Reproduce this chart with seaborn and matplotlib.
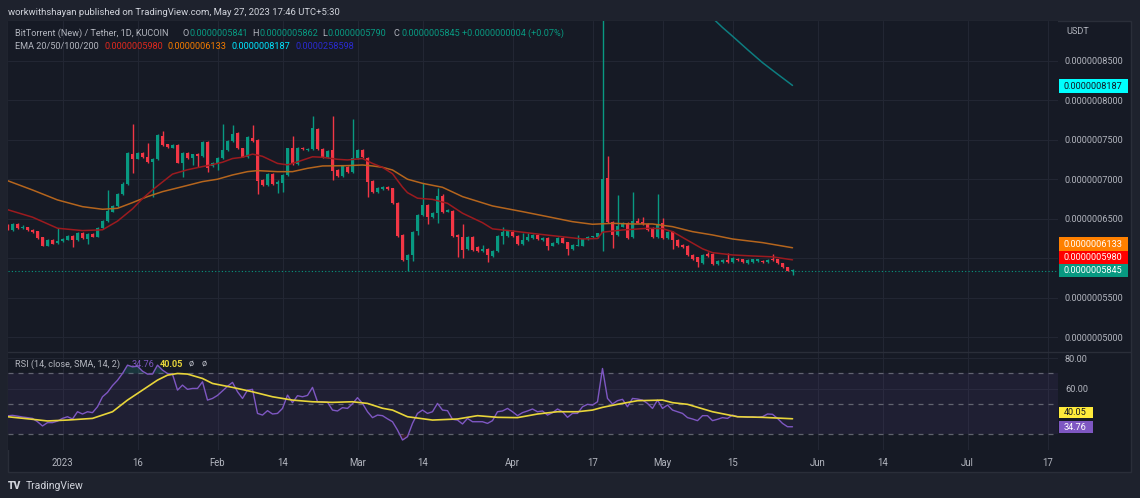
import numpy as np
import pandas as pd
import matplotlib
matplotlib.use("Agg")
import matplotlib.pyplot as plt
from matplotlib.patches import Rectangle
from matplotlib.lines import Line2D
from matplotlib.ticker import FuncFormatter
import seaborn as sns

# ---------------- data ----------------
# BitTorrent (New) / Tether, 1D, KUCOIN  -- prices in units of 1e-10 USDT
first_candle = "2022-12-21"
open_ = [6409, 6358, 6434, 6379, 6392, 6362, 6340, 6265, 6160, 6231,
         6189, 6215, 6231, 6282, 6231, 6324, 6240, 6307, 6274, 6379,
         6476, 6590, 6662, 6814, 6940, 7320, 7261, 7337, 7278, 7214,
         7252, 7552, 7442, 7400, 7434, 7210, 7337, 7273, 7320, 7294,
         7476, 7172, 7202, 7265, 7370, 7488, 7581, 7391, 7286, 7526,
         7497, 6990, 6927, 7067, 6940, 6950, 7054, 7400, 7193, 7400,
         7370, 7383, 7632, 7379, 7278, 7370, 7117, 7041, 7159, 7096,
         7265, 7370, 7273, 6982, 6843, 6873, 6906, 6885, 6704, 6295,
         5978, 6042, 6350, 6548, 6674, 6518, 6569, 6792, 6590, 6603,
         6295, 6274, 6113, 6274, 6139, 6096, 6113, 6029, 6096, 6282,
         6282, 6337, 6282, 6181, 6231, 6253, 6295, 6231, 6253, 6160,
         6189, 6261, 6202, 6113, 6160, 6160, 6240, 6265, 6274, 6316,
         7012, 6463, 6295, 6400, 6451, 6265, 6476, 6463, 6430, 6387,
         6265, 6442, 6253, 6337, 6231, 6168, 6156, 6042, 6012, 5936,
         6054, 6054, 5928, 5957, 5978, 5957, 5995, 5987, 5936, 5957,
         5962, 5970, 5949, 5987, 5987, 5936, 5886, 5841]
high_ = [6430, 6445, 6440, 6420, 6400, 6375, 6350, 6270, 6240, 6245,
         6379, 6255, 6300, 6290, 6335, 6335, 6320, 6315, 6390, 6490,
         6864, 6680, 6830, 6960, 7345, 7699, 7340, 7350, 7463, 7265,
         7570, 7611, 7450, 7445, 7445, 7345, 7350, 7325, 7330, 7490,
         7490, 7215, 7280, 7699, 7500, 7687, 7595, 7400, 7550, 7687,
         7510, 7000, 7080, 7075, 6985, 7065, 7400, 7547, 7410, 7410,
         7395, 7800, 7650, 7390, 7375, 7800, 7130, 7185, 7170, 7758,
         7385, 7385, 7285, 6995, 6900, 6910, 6915, 6895, 6715, 6305,
         6055, 6350, 6560, 6948, 6685, 6590, 6885, 6810, 6625, 6615,
         6305, 6434, 6285, 6285, 6150, 6168, 6125, 6105, 6295, 6400,
         6360, 6358, 6295, 6316, 6316, 6310, 6305, 6265, 6265, 6210,
         6265, 6270, 6210, 6180, 6295, 6250, 6285, 6285, 6325, 9700,
         7294, 6475, 6801, 6455, 6460, 6843, 6506, 6527, 6440, 6395,
         6809, 6506, 6350, 6350, 6240, 6180, 6165, 6055, 6020, 6055,
         6084, 6065, 5980, 5990, 6071, 6010, 6005, 5995, 5990, 5995,
         5995, 5980, 5990, 6054, 5995, 5945, 5895, 5862]
low_ = [6355, 6350, 6370, 6370, 6350, 6325, 6250, 6150, 6150, 6175,
        6180, 6205, 6225, 6147, 6220, 6245, 6181, 6265, 6265, 6370,
        6465, 6580, 6650, 6800, 6930, 7075, 7250, 7265, 7205, 6780,
        7240, 7425, 7400, 7390, 7200, 7033, 7255, 7180, 7160, 7285,
        7096, 7160, 7117, 7255, 7360, 7475, 7380, 7275, 7270, 7475,
        6814, 6915, 6915, 6930, 6830, 6843, 7040, 7180, 7180, 7370,
        7360, 7370, 7370, 7265, 7265, 6990, 7030, 7030, 7085, 7085,
        7255, 7265, 6771, 6830, 6830, 6860, 6860, 6690, 6270, 5965,
        5843, 5970, 6295, 6535, 6434, 6505, 6442, 6575, 6580, 6270,
        6020, 6000, 6100, 6090, 6085, 6085, 5957, 6015, 6085, 6181,
        6270, 6270, 6170, 6170, 6220, 6240, 6230, 6220, 6105, 6150,
        6180, 6190, 6042, 6100, 6150, 6150, 6230, 6255, 6260, 6096,
        6450, 6126, 6285, 6390, 6240, 6255, 6440, 6425, 6345, 6255,
        6255, 6240, 6240, 6113, 6145, 6135, 6030, 5975, 5894, 5925,
        6020, 5910, 5915, 5945, 5945, 5945, 5965, 5940, 5925, 5945,
        5950, 5940, 5940, 5970, 5925, 5875, 5835, 5790]
close_ = [6366, 6434, 6379, 6400, 6358, 6337, 6261, 6160, 6231, 6181,
          6223, 6240, 6282, 6231, 6324, 6253, 6307, 6274, 6379, 6476,
          6598, 6662, 6814, 6940, 7337, 7252, 7328, 7278, 7214, 7252,
          7560, 7434, 7412, 7434, 7210, 7337, 7265, 7315, 7294, 7476,
          7138, 7202, 7265, 7370, 7488, 7569, 7391, 7286, 7539, 7488,
          6982, 6927, 7067, 6940, 6970, 7054, 7391, 7193, 7400, 7379,
          7383, 7644, 7379, 7278, 7362, 7109, 7041, 7172, 7096, 7265,
          7370, 7278, 6970, 6843, 6885, 6898, 6873, 6704, 6282, 5978,
          6042, 6337, 6548, 6674, 6527, 6577, 6792, 6590, 6611, 6282,
          6265, 6105, 6274, 6105, 6096, 6113, 6042, 6092, 6282, 6337,
          6345, 6282, 6181, 6231, 6265, 6295, 6240, 6253, 6160, 6198,
          6253, 6198, 6113, 6168, 6165, 6240, 6274, 6274, 6316, 7000,
          6463, 6295, 6409, 6442, 6253, 6476, 6451, 6434, 6358, 6265,
          6434, 6253, 6337, 6231, 6156, 6147, 6042, 5987, 5949, 6042,
          6029, 5923, 5970, 5978, 5957, 5999, 5978, 5949, 5978, 5987,
          5987, 5949, 5978, 5978, 5936, 5886, 5843, 5845]

# EMA lines (days counted from 2023-01-01)
ema_ref_date = "2023-01-01"
ema20_day = [-11, -6, -1, 4, 8, 11, 14, 16, 18, 21, 22, 25, 28, 30, 32, 34, 36, 38,
             40, 43, 45, 47, 50, 52, 55, 57, 60, 62, 64, 66, 68, 69, 71, 74, 77, 80,
             84, 86, 90, 95, 100, 104, 107, 108, 112, 114, 117, 120, 122, 125, 128,
             130, 134, 138, 142, 146]
ema20_val = [6615, 6520, 6380, 6350, 6360, 6470, 6625, 6755, 6865, 7015, 7065, 7120,
             7160, 7185, 7215, 7262, 7278, 7318, 7290, 7200, 7182, 7220, 7284, 7278,
             7252, 7244, 7262, 7200, 7150, 7070, 6900, 6830, 6760, 6745, 6695, 6570,
             6450, 6372, 6345, 6307, 6272, 6244, 6250, 6330, 6358, 6366, 6379, 6375,
             6337, 6228, 6120, 6071, 6042, 6029, 6018, 5980]
ema50_day = [-11, -6, -1, 4, 8, 11, 14, 17, 20, 24, 28, 31, 34, 37, 39, 43, 46, 49,
             52, 57, 60, 62, 64, 66, 69, 72, 76, 80, 86, 92, 97, 102, 106, 110, 114,
             118, 122, 126, 130, 134, 140, 146]
ema50_val = [6982, 6864, 6738, 6653, 6620, 6632, 6704, 6780, 6843, 6906, 6970, 7000,
             7054, 7096, 7109, 7096, 7096, 7138, 7168, 7172, 7180, 7168, 7151, 7117,
             7000, 6948, 6898, 6780, 6662, 6590, 6527, 6463, 6430, 6442, 6434, 6434,
             6400, 6337, 6295, 6244, 6198, 6133]
ema100_day = [130, 132, 134, 137, 140, 143, 146]
ema100_val = [9040, 8920, 8810, 8640, 8475, 8330, 8187]

# RSI(14) one value per candle, and its SMA(14) read at points
rsi_vals = [42.0, 42.3, 41.8, 41.2, 40.8, 40.3, 38.1, 35.3, 37.5, 37.5, 38.5,
            40.3, 41.4, 39.9, 44.7, 43.2, 44.7, 44.1, 48.0, 54.6, 57.5,
            62.0, 65.5, 70.0, 75.5, 74.4, 74.8, 71.5, 69.6, 69.6, 75.5,
            72.2, 70.0, 69.5, 59.0, 62.3, 59.5, 60.1, 60.1, 64.5, 52.4,
            53.5, 55.5, 58.5, 61.5, 64.1, 57.9, 53.5, 59.0, 59.5, 43.6,
            42.5, 45.4, 43.2, 43.6, 46.9, 55.7, 50.7, 55.3, 54.6, 55.5,
            60.8, 51.3, 51.3, 51.0, 45.8, 45.2, 47.4, 46.9, 50.0, 54.0,
            50.2, 44.7, 40.8, 42.5, 42.1, 40.0, 38.1, 32.6, 26.0, 28.2,
            37.0, 43.6, 45.8, 43.6, 44.7, 50.2, 45.8, 45.4, 39.7, 39.2,
            36.6, 40.3, 38.1, 38.1, 38.1, 37.0, 38.8, 44.7, 45.2, 46.9,
            44.7, 42.1, 44.1, 45.2, 46.5, 44.7, 45.2, 42.5, 44.1, 46.5,
            44.7, 41.0, 43.6, 43.6, 48.0, 49.6, 49.1, 51.3, 73.3, 53.5,
            49.8, 52.0, 52.9, 48.0, 53.5, 53.1, 52.4, 50.2, 46.9, 52.4,
            46.9, 49.1, 45.8, 44.7, 43.6, 40.8, 39.9, 38.8, 42.1, 42.1,
            38.8, 39.7, 40.8, 40.3, 42.5, 41.4, 41.4, 41.0, 41.4, 41.0,
            41.4, 43.2, 43.0, 40.3, 37.0, 34.8, 34.76]
sma_day = [-11, -6, -3, 1, 6, 10, 13, 16, 19, 21, 23, 25, 28, 30, 34, 38, 42, 46,
           50, 54, 58, 61, 64, 66, 69, 74, 79, 83, 87, 91, 95, 99, 103, 106, 108,
           111, 115, 120, 122, 125, 130, 135, 140, 146]
sma_val = [41.4, 39.7, 38.6, 39.2, 40.3, 44.7, 52.4, 59.0, 65.6, 68.9, 70.0, 69.6,
           66.7, 63.4, 60.8, 57.9, 54.6, 52.4, 51.3, 50.9, 51.3, 50.2, 47.0, 45.8,
           41.4, 39.2, 39.9, 42.1, 41.0, 40.8, 43.2, 44.7, 44.7, 45.8, 47.6, 49.6,
           52.0, 52.4, 50.7, 49.6, 44.7, 41.4, 41.0, 40.05]

price_ticks = [5000, 5500, 6000, 6500, 7000, 7500, 8000, 8500]
date_ticks = ["2023-01-01", "2023-01-16", "2023-02-01", "2023-02-14", "2023-03-01",
              "2023-03-14", "2023-04-01", "2023-04-17", "2023-05-01", "2023-05-15",
              "2023-06-01", "2023-06-14", "2023-07-01", "2023-07-17"]
date_labels = ["2023", "16", "Feb", "14", "Mar", "14", "Apr", "17", "May", "15",
               "Jun", "14", "Jul", "17"]

header = "workwithshayan published on TradingView.com, May 27, 2023 17:46 UTC+5:30"
symbol_text = "BitTorrent (New) / Tether, 1D, KUCOIN"
ohlc_text = ["0.0000005841", "0.0000005862", "0.0000005790", "0.0000005845"]
change_text = "+0.0000000004 (+0.07%)"
ema_title = "EMA 20/50/100/200"
ema_last = ["0.0000005980", "0.0000006133", "0.0000008187", "0.0000258598"]
rsi_title = "RSI (14, close, SMA, 14, 2)"
rsi_last, sma_last = "34.76", "40.05"

# ---------------- style ----------------
W, H = 1140, 498
sns.set_style("dark")
plt.rcParams['font.family'] = ['Roboto', 'DejaVu Sans']
BG_OUT = '#1e222d'
BG_IN = '#161a25'
GRID = '#222633'
TXT = '#b2b5be'
UP, DN = '#089981', '#f23645'
C_EMA20, C_EMA50, C_EMA100 = '#9c1a1f', '#b5651d', '#0d7d80'
C_RSI, C_SMA = '#7e57c2', '#e8d53a'
FS = 6.6

fig = plt.figure(figsize=(W / 100, H / 100), dpi=100, facecolor=BG_OUT)


def fx(x):
    return x / W


def fy(y):
    return 1 - y / H


def ftext(x, y, s, color=TXT, size=FS, ha='left', va='center', z=7, **kw):
    return fig.text(fx(x), fy(y), s, color=color, fontsize=size, ha=ha, va=va,
                    zorder=z, **kw)


def fbox(x0, x1, yc, h, fc, text, tc):
    fig.patches.append(Rectangle((fx(x0), fy(yc + h / 2)), (x1 - x0) / W, h / H,
                                 transform=fig.transFigure, fc=fc, ec='none', zorder=6))
    ftext(x0 + 4.5, yc, text, color=tc)


# chart frame
fig.patches.append(Rectangle((fx(8), fy(472)), (1131 - 8) / W, (472 - 21) / H,
                             transform=fig.transFigure, fc=BG_IN, ec='#2a2e39',
                             lw=1, zorder=-5))
fig.lines.append(Line2D([fx(8), fx(1131)], [fy(352), fy(352)], transform=fig.transFigure,
                        color='#2a2e39', lw=1, zorder=5))

ax = fig.add_axes([fx(8), fy(352), (1058 - 8) / W, (352 - 21) / H])
axr = fig.add_axes([fx(8), fy(450), (1058 - 8) / W, (450 - 352) / H], sharex=ax)
for a in (ax, axr):
    a.set_facecolor(BG_IN)
    for s in a.spines.values():
        s.set_visible(False)

base = pd.Timestamp(ema_ref_date)
dates = pd.date_range(first_candle, periods=len(close_), freq='D')
o, h, l, c = map(np.asarray, (open_, high_, low_, close_))
cols = np.where(c >= o, UP, DN)

# candles
ax.vlines(dates, l, h, colors=cols, lw=1.0, zorder=3)
ax.bar(dates, np.maximum(np.abs(c - o), 12), bottom=np.minimum(o, c), width=0.66,
       color=cols, lw=0, zorder=4)


def days_to_dates(d):
    return base + pd.to_timedelta(np.asarray(d), unit='D')


# EMAs
sns.lineplot(x=days_to_dates(ema50_day), y=ema50_val, ax=ax, color=C_EMA50, lw=1.1, zorder=5)
sns.lineplot(x=days_to_dates(ema20_day), y=ema20_val, ax=ax, color=C_EMA20, lw=1.1, zorder=5)
sns.lineplot(x=days_to_dates(ema100_day), y=ema100_val, ax=ax, color=C_EMA100, lw=1.1, zorder=5)
ax.axhline(float(ohlc_text[3]) * 1e10, color=UP, lw=0.8, ls=(0, (1, 2)), zorder=2)

ax.set_ylim(4814, 9002)
ax.set_xlim(base - pd.Timedelta(days=10.9), base + pd.Timedelta(days=199.1))
ax.set_yticks(price_ticks)
ax.yaxis.tick_right()
ax.yaxis.set_major_formatter(FuncFormatter(lambda v, p: f"{v * 1e-10:.10f}"))
ax.tick_params(axis='y', length=0, pad=5, labelsize=FS, labelcolor=TXT)
tick_dates = pd.to_datetime(date_ticks)
ax.set_xticks(tick_dates)
ax.tick_params(axis='x', length=0, labelbottom=False)
ax.grid(True, color=GRID, lw=0.8, zorder=0)
ax.set_xlabel(''); ax.set_ylabel('')

# RSI pane
rsi = np.asarray(rsi_vals)
axr.axhspan(30, 70, color=C_RSI, alpha=0.09, lw=0, zorder=1)
for lev in (70, 50, 30):
    axr.axhline(lev, color='#787b86', lw=0.9, ls=(0, (4, 4)), alpha=0.75, zorder=2)
axr.fill_between(dates, rsi, 70, where=rsi > 70, interpolate=True, color='#26a69a',
                 alpha=0.2, lw=0, zorder=2)
axr.fill_between(dates, rsi, 30, where=rsi < 30, interpolate=True, color='#f23645',
                 alpha=0.15, lw=0, zorder=2)
sns.lineplot(x=dates, y=rsi, ax=axr, color=C_RSI, lw=1.0, zorder=4)
sns.lineplot(x=days_to_dates(sma_day), y=sma_val, ax=axr, color=C_SMA, lw=1.2, zorder=5)
axr.set_ylim(19.4, 84.2)
axr.set_yticks([80, 60])
axr.yaxis.tick_right()
axr.yaxis.set_major_formatter(FuncFormatter(lambda v, p: f"{v:.2f}"))
axr.tick_params(axis='y', length=0, pad=5, labelsize=FS, labelcolor=TXT)
axr.set_xticks(tick_dates)
axr.set_xticklabels(date_labels)
axr.tick_params(axis='x', length=0, pad=5.5, labelsize=FS + 0.3, labelcolor=TXT)
axr.grid(True, color=GRID, lw=0.8, zorder=0)
axr.set_xlim(base - pd.Timedelta(days=10.9), base + pd.Timedelta(days=199.1))
axr.set_xlabel(''); axr.set_ylabel('')

# ---------------- texts ----------------
ftext(8.3, 12.7, header, color='#d1d4dc', size=6.8)
ftext(15, 33.7, symbol_text)
for lx, vx, val, lab in zip([182.7, 252.3, 322, 393.3], [190, 259.3, 327.7, 401],
                            ohlc_text, "OHLC"):
    ftext(lx, 33.7, lab)
    ftext(vx, 33.7, val, color=UP)
ftext(462, 33.7, change_text, color=UP)
ftext(15, 46.3, ema_title)
for vx, val, col in zip([104.7, 168, 231.7, 295.7], ema_last,
                        ['#e0281e', '#f57c00', '#00e5ff', '#2a2ad0']):
    ftext(vx, 46.3, val, color=col)
ftext(15, 364.3, rsi_title)
ftext(131.7, 364.3, rsi_last, color=C_RSI)
ftext(160, 364.3, sma_last, color=C_SMA, weight='bold')
ftext(188.3, 364.3, "ø")
ftext(202, 364.3, "ø")
ftext(1066.7, 32, "USDT")

# price labels on the scale
fbox(1059, 1128, 86, 13.5, '#00ffff', ema_last[2], '#131722')
fbox(1059, 1128, 244, 13.5, '#ff8000', ema_last[1], 'white')
fbox(1059, 1128, 257.5, 13.5, '#ff0000', ema_last[0], 'white')
fbox(1059, 1128, 270.5, 13.5, UP, ohlc_text[3], 'white')
fbox(1059, 1093, 412.7, 11.5, '#ffeb3b', sma_last, '#131722')
fbox(1059, 1093, 427, 12.5, C_RSI, rsi_last, 'white')

# TradingView logo
ftext(8, 485.5, "TV", color='#d1d4dc', size=7.5, weight='heavy')
ftext(25.5, 485.5, "TradingView", color='#d1d4dc', size=7.5)

fig.savefig("out.png", dpi=100, facecolor=fig.get_facecolor())
